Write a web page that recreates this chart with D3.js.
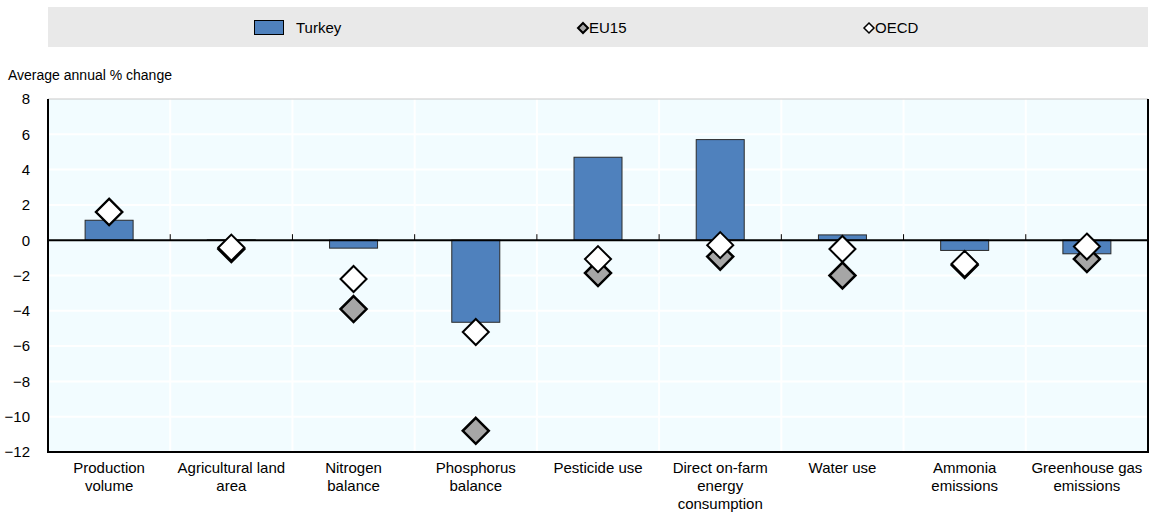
<!DOCTYPE html>
<html><head><meta charset="utf-8">
<script src="https://cdn.jsdelivr.net/npm/d3@7"></script>
<style>
body{margin:0;background:#fff;}
text{font-family:"Liberation Sans Narrow","Arial Narrow","Liberation Sans",Arial,sans-serif;}
</style></head>
<body><svg id="c" width="1152" height="527"></svg>
<script>
const categories = [
  ["Production","volume"],
  ["Agricultural land","area"],
  ["Nitrogen","balance"],
  ["Phosphorus","balance"],
  ["Pesticide use"],
  ["Direct on-farm","energy","consumption"],
  ["Water use"],
  ["Ammonia","emissions"],
  ["Greenhouse gas","emissions"]
];
const turkey = [1.13, 0.02, -0.45, -4.65, 4.7, 5.7, 0.3, -0.58, -0.77];
const eu15   = [1.6, -0.5, -3.9, -10.8, -1.86, -0.93, -2.0, -1.4, -1.07];
const oecd   = [1.6, -0.42, -2.2, -5.2, -1.07, -0.28, -0.5, -1.34, -0.36];
const yTicks = [8, 6, 4, 2, 0, -2, -4, -6, -8, -10, -12];
const seriesNames = ["Turkey", "EU15", "OECD"];

const svg = d3.select("#c");
const L = 48, R = 1148, T = 99, B = 452;
const x = d3.scaleBand().domain(d3.range(categories.length)).range([L, R]).paddingInner(0).paddingOuter(0);
const y = d3.scaleLinear().domain([-12, 8]).range([B, T]);

// legend band
svg.append("rect").attr("x", L).attr("y", 7).attr("width", R - L).attr("height", 40).attr("fill", "#e9e9e9");
const lg = svg.append("g");
lg.append("rect").attr("x", 254.5).attr("y", 20.5).attr("width", 29).attr("height", 14)
  .attr("fill", "#4f81bd").attr("stroke", "#000").attr("stroke-width", 1);
lg.append("text").attr("x", 296).attr("y", 33).attr("font-size", 15).text(seriesNames[0]);
const dmd = (cx, cy, s) => `M${cx},${cy - s}L${cx + s},${cy}L${cx},${cy + s}L${cx - s},${cy}Z`;
lg.append("path").attr("d", dmd(583, 28, 5)).attr("fill", "#a6a6a6").attr("stroke", "#000").attr("stroke-width", 2);
lg.append("text").attr("x", 589).attr("y", 33).attr("font-size", 15).text(seriesNames[1]);
lg.append("path").attr("d", dmd(869, 28, 5)).attr("fill", "#fff").attr("stroke", "#000").attr("stroke-width", 1.5);
lg.append("text").attr("x", 875).attr("y", 33).attr("font-size", 15).text(seriesNames[2]);

// plot background
svg.append("rect").attr("x", L).attr("y", T).attr("width", R - L).attr("height", B - T).attr("fill", "#f2fcff");
// horizontal grid
svg.append("g").selectAll("line").data(yTicks.filter(d => d !== 0 && d !== -12 && d !== 8)).join("line")
  .attr("x1", L).attr("x2", R).attr("y1", d => y(d)).attr("y2", d => y(d))
  .attr("stroke", "#fff").attr("stroke-width", 2);
// vertical grid
svg.append("g").selectAll("line").data(d3.range(1, categories.length)).join("line")
  .attr("x1", d => x(d)).attr("x2", d => x(d)).attr("y1", T).attr("y2", B)
  .attr("stroke", "#fff").attr("stroke-width", 2);
// top border
svg.append("line").attr("x1", L).attr("x2", R).attr("y1", T).attr("y2", T).attr("stroke", "#c8c8c8").attr("stroke-width", 1);

// bars
const bw = 48;
svg.append("g").selectAll("rect").data(turkey).join("rect")
  .attr("x", (d, i) => x(i) + x.bandwidth() / 2 - bw / 2)
  .attr("y", d => y(Math.max(0, d)))
  .attr("width", bw)
  .attr("height", d => Math.abs(y(d) - y(0)))
  .attr("fill", "#4f81bd").attr("stroke", "#2a2a2a").attr("stroke-width", 1);

// zero axis + ticks
svg.append("line").attr("x1", L).attr("x2", R).attr("y1", y(0)).attr("y2", y(0)).attr("stroke", "#000").attr("stroke-width", 2);
svg.append("g").selectAll("line").data(d3.range(1, categories.length)).join("line")
  .attr("x1", d => x(d)).attr("x2", d => x(d)).attr("y1", y(0)).attr("y2", y(0) - 6)
  .attr("stroke", "#000").attr("stroke-width", 1);

// markers
const s = 13;
svg.append("g").selectAll("path").data(eu15).join("path")
  .attr("d", (d, i) => dmd(x(i) + x.bandwidth() / 2, y(d), s))
  .attr("fill", "#a6a6a6").attr("stroke", "#000").attr("stroke-width", 2.5);
svg.append("g").selectAll("path").data(oecd).join("path")
  .attr("d", (d, i) => dmd(x(i) + x.bandwidth() / 2, y(d), s))
  .attr("fill", "#fff").attr("stroke", "#000").attr("stroke-width", 2);

// frame: left, bottom, right
svg.append("path").attr("d", `M${L},${T}V${B}H${R}V${T}`).attr("fill", "none").attr("stroke", "#000").attr("stroke-width", 2);

// y axis labels
const yAxis = d3.axisLeft(y).tickValues(yTicks).tickSize(0).tickPadding(18).tickFormat(d3.format("d"));
const ya = svg.append("g").attr("transform", `translate(${L},0)`).call(yAxis);
ya.select(".domain").remove();
ya.selectAll("text").attr("fill", "#000")
  .style("font-family", '"Liberation Sans","Arial",sans-serif').attr("font-size", 15);

svg.append("text").attr("x", 8).attr("y", 80).attr("font-size", 14).text("Average annual % change");

// x labels
const xl = svg.append("g");
categories.forEach((lines, i) => {
  const t = xl.append("text").attr("text-anchor", "middle").attr("font-size", 15)
    .attr("x", x(i) + x.bandwidth() / 2).attr("y", 473);
  lines.forEach((ln, j) => t.append("tspan").attr("x", x(i) + x.bandwidth() / 2).attr("dy", j === 0 ? 0 : 18).text(ln));
});
</script></body></html>
